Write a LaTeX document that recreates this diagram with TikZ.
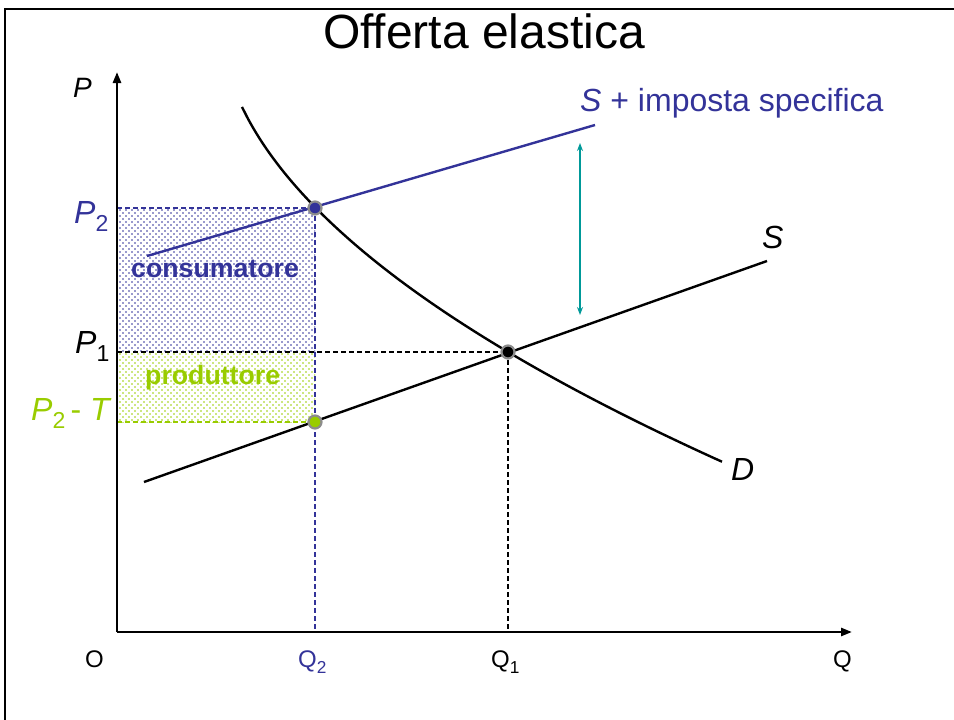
\documentclass[tikz,border=0pt]{standalone}
\usepackage{fontspec}
\usepackage{graphicx}
\setmainfont{Liberation Sans}
\usetikzlibrary{patterns,arrows.meta}
\definecolor{tblue}{HTML}{333399}
\definecolor{tgreen}{HTML}{99CC00}
\definecolor{tteal}{HTML}{009999}
\newcommand{\lsub}[1]{\raisebox{-0.28em}{\scalebox{0.72}{#1}}}
\pgfdeclarepatternformonly{sparsedots}{\pgfqpoint{-1pt}{-1pt}}{\pgfqpoint{5pt}{5pt}}{\pgfqpoint{6pt}{6pt}}{%
  \pgfpathcircle{\pgfqpoint{0pt}{0pt}}{0.9pt}%
  \pgfpathcircle{\pgfqpoint{3pt}{3pt}}{0.9pt}%
  \pgfusepath{fill}}
\begin{document}
\begin{tikzpicture}[x=1pt,y=-1pt,
  txt/.style={inner sep=0pt,anchor=base west},
  f24/.style={font=\fontsize{24}{24}\selectfont},
  f28/.style={font=\fontsize{28}{28}\selectfont},
  f32/.style={font=\fontsize{32}{32}\selectfont},
  area/.style={font=\bfseries\fontsize{26.7}{26.7}\selectfont},
  curve/.style={line width=2.4pt},
  axis/.style={line width=2.6pt,-{Triangle[length=11pt,width=8pt]}},
  guide/.style={line width=1.1pt,dash pattern=on 5pt off 3pt},
  dot/.style={circle,inner sep=0pt,minimum size=13pt,line width=2.2pt,draw=gray!90}]
\useasboundingbox (0,0) rectangle (954,720);
% frame
\coordinate (fbl) at (5,720);
\coordinate (ftl) at (5,9);
\coordinate (ftr) at (954,9);
\draw[line width=2.2pt] (fbl) -- (ftl) -- (ftr);
% key coordinates
\coordinate (O) at (117,632);
\coordinate (ytop) at (117,72);
\coordinate (xend) at (852,632);
\coordinate (A) at (315,208);
\coordinate (B) at (315,422);
\coordinate (E) at (508,352);
\coordinate (P2y) at (117,208);
\coordinate (P1y) at (117,352);
\coordinate (PTy) at (117,422);
\coordinate (Q2x) at (315,632);
\coordinate (Q1x) at (508,632);
% shaded areas
\fill[pattern=sparsedots,pattern color=tblue] (P2y) rectangle (315,352);
\fill[pattern=sparsedots,pattern color=tgreen] (P1y) rectangle (B);
% guide lines
\draw[guide,tblue] (P2y) -- (A);
\draw[guide,tblue] (A) -- (Q2x);
\draw[guide,tgreen] (PTy) -- (B);
\draw[guide] (P1y) -- (E);
\draw[guide] (E) -- (Q1x);
% area labels
\node[txt,area,text=tblue] (cons) at (131,277) {consumatore};
\node[txt,area,text=tgreen] (prod) at (145,384) {produttore};
% axes
\draw[axis] (O) -- (ytop);
\draw[axis] (O) -- (xend);
% curves
\coordinate (s0) at (144,482);
\coordinate (s1) at (767,261);
\draw[curve] (s0) -- (s1);
\coordinate (t0) at (147,256);
\coordinate (t1) at (595,125);
\draw[curve,tblue] (t0) -- (t1);
\draw[curve] plot[domain=242:722,samples=80,smooth] (\x,{107+18.67*(pow(\x-220,0.51)-4.84)});
% tax arrow
\coordinate (ar0) at (580,143);
\coordinate (ar1) at (580,315);
\draw[tteal,line width=1.3pt,{Stealth[length=8pt,width=6pt]}-{Stealth[length=8pt,width=6pt]}] (ar0) -- (ar1);
% points
\node[dot,fill=tblue] (Adot) at (A) {};
\node[dot,fill=tgreen] (Bdot) at (B) {};
\node[dot,fill=black] (Edot) at (E) {};
% labels
\node[inner sep=0pt,anchor=base,font=\fontsize{48}{48}\selectfont] (title) at (484,48) {Offerta elastica};
\node[txt,f32,text=tblue] (tlab) at (580,111) {\textit{S} + imposta specifica};
\node[txt,f32] (slab) at (762,248) {\textit{S}};
\node[txt,f32] (dlab) at (731,480) {\textit{D}};
\node[txt,f28] (plab) at (73,97) {\textit{P}};
\node[txt,f24] (olab) at (85,667) {O};
\node[txt,f24] (qlab) at (833,667) {Q};
\node[txt,f24,text=tblue] (q2lab) at (298,667) {Q\lsub{2}};
\node[txt,f24] (q1lab) at (491,667) {Q\lsub{1}};
\node[txt,f32,text=tblue] (p2lab) at (74,223) {\textit{P}\lsub{2}};
\node[txt,f32] (p1lab) at (75,353) {\textit{P}\lsub{1}};
\node[txt,f32,text=tgreen] (ptlab) at (31,420) {\textit{P}\lsub{2}\,- \textit{T}};
\end{tikzpicture}
\end{document}
